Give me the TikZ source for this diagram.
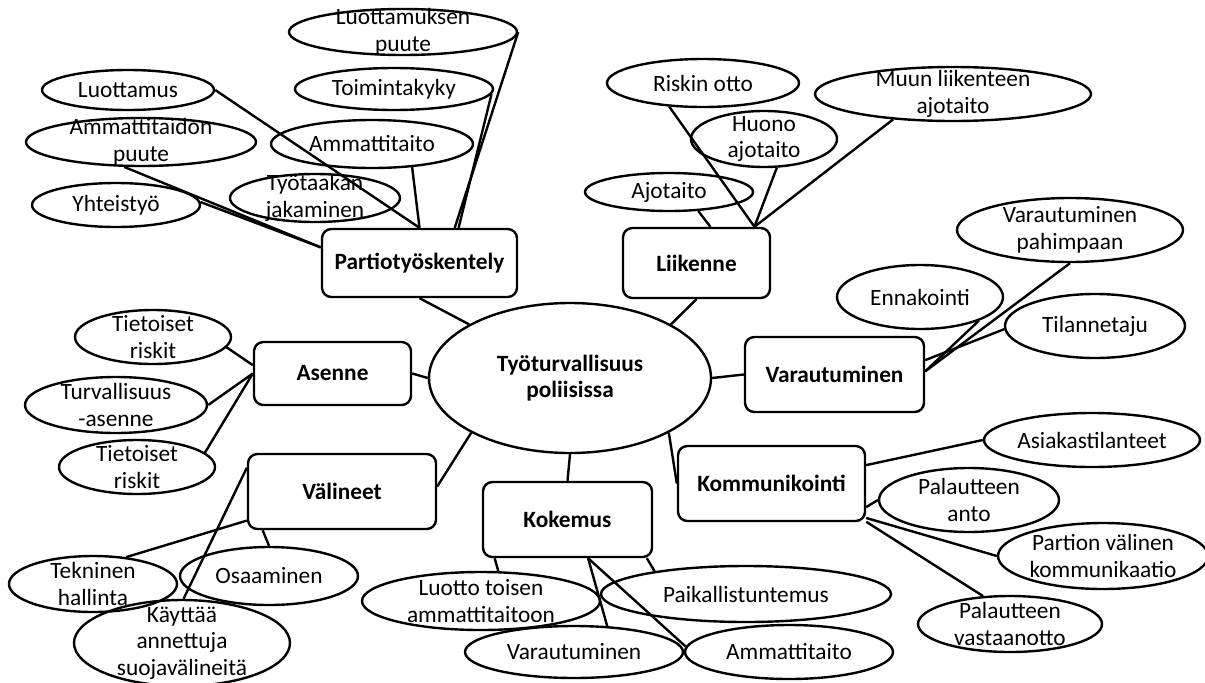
\documentclass[tikz,border=0pt]{standalone}
\usepackage{fontspec}
\setmainfont{Carlito}
\usetikzlibrary{shapes.geometric}
\newcommand{\mapfont}{\fontsize{17.5}{20}\selectfont}
\tikzset{
  idea/.style 2 args={draw,ellipse,line width=1.8pt,inner sep=0pt,minimum width=#1*0.75pt,minimum height=#2*0.75pt},
  topic/.style 2 args={draw,rounded corners=7pt,line width=1.8pt,inner sep=0pt,align=center,font=\mapfont\bfseries,minimum width=#1*0.75pt,minimum height=#2*0.75pt},
  lbl/.style={align=center,inner sep=0pt},
  link/.style={line width=1.8pt}
}
\begin{document}
\begin{tikzpicture}[x=0.75pt,y=-0.75pt,font=\mapfont]
\useasboundingbox[fill=white] (0,0) rectangle (1205,682);
\node[idea={282}{150},label={[lbl,font=\mapfont\bfseries]center:Työturvallisuus\\poliisissa}] (central) at (570,378) {};
\node[topic={195}{68}] (partio) at (419.5,263) {Partiotyöskentely};
\node[topic={147}{70}] (liik) at (696.5,263) {Liikenne};
\node[topic={179}{75}] (varau) at (834.5,374.5) {Varautuminen};
\node[topic={157}{63}] (asenne) at (332.5,373.5) {Asenne};
\node[topic={188}{75}] (valin) at (342,491.5) {Välineet};
\node[topic={169}{75}] (kok) at (567.5,519.5) {Kokemus};
\node[topic={187}{75}] (komm) at (771.5,483.5) {Kommunikointi};
% partiotyöskentely
\node[idea={228}{46},label={[lbl]center:Luottamuksen\\puute}] (lpuute) at (403,32) {};
\node[idea={198}{42},label={[lbl]center:Toimintakyky}] (toim) at (394,89) {};
\node[idea={172}{40},label={[lbl]center:Luottamus}] (luott) at (128,90) {};
\node[idea={230}{48},label={[lbl]center:Ammattitaidon\\puute}] (apuute) at (141,142) {};
\node[idea={202}{48},label={[lbl]center:Ammattitaito}] (ammp) at (372,144) {};
\node[idea={170}{48},label={[lbl]center:Työtaakan\\jakaminen}] (tyo) at (315,198) {};
\node[idea={168}{44},label={[lbl]center:Yhteistyö}] (yht) at (116,205) {};
% liikenne
\node[idea={192}{48},label={[lbl]center:Riskin otto}] (risk) at (703,83) {};
\node[idea={276}{54},label={[lbl]center:Muun liikenteen\\ajotaito}] (muun) at (953,94) {};
\node[idea={146}{56},label={[lbl]center:Huono\\ajotaito}] (huono) at (764,139) {};
\node[idea={168}{38},label={[lbl]center:Ajotaito}] (ajo) at (669,192) {};
% varautuminen
\node[idea={226}{64},label={[lbl]center:Varautuminen\\pahimpaan}] (vpahin) at (1070,230) {};
\node[idea={166}{64},label={[lbl]center:Ennakointi}] (enn) at (920,297) {};
\node[idea={180}{64},label={[lbl]center:Tilannetaju}] (tilanne) at (1095,326) {};
% asenne
\node[idea={156}{54},label={[lbl]center:Tietoiset\\riskit}] (ter1) at (153,337) {};
\node[idea={182}{56},label={[lbl]center:Turvallisuus\\-asenne}] (turv) at (116,405) {};
\node[idea={156}{54},label={[lbl]center:Tietoiset\\riskit}] (ter2) at (137,467) {};
% välineet
\node[idea={168}{56},label={[lbl]center:Tekninen\\hallinta}] (tek) at (93,584) {};
\node[idea={178}{58},label={[lbl]center:Osaaminen}] (osa) at (269,576) {};
\node[idea={216}{86},label={[lbl]center:Käyttää\\annettuja\\suojavälineitä}] (kay) at (182,643) {};
% kokemus
\node[idea={238}{58},label={[lbl]center:Luotto toisen\\ammattitaitoon}] (luotto) at (481,601) {};
\node[idea={218}{52},label={[lbl]center:Varautuminen}] (varkok) at (574,652) {};
\node[idea={290}{56},label={[lbl]center:Paikallistuntemus}] (paik) at (746,594) {};
\node[idea={208}{54},label={[lbl]center:Ammattitaito}] (ammk) at (789,652) {};
% kommunikointi
\node[idea={216}{54},label={[lbl]center:Asiakastilanteet}] (asiak) at (1092,440) {};
\node[idea={180}{64},label={[lbl]center:Palautteen\\anto}] (panto) at (969,500) {};
\node[idea={210}{66},label={[lbl]center:Partion välinen\\kommunikaatio}] (partion) at (1103,556) {};
\node[idea={184}{56},label={[lbl]center:Palautteen\\vastaanotto}] (pvast) at (1010,624) {};

\draw[link] (luott.east) -- (partio.north);
\draw[link] (apuute.236) -- (partio.171);
\draw[link] (yht.2) -- (partio.171);
\draw[link] (ammp.-30) -- (partio.north);
\draw[link] (lpuute.east) -- (partio.45);
\draw[link] (toim.-3) -- (partio.42);
\draw[link] (partio.south) -- (central.152);

\draw[link] (risk.215) -- (liik.32);
\draw[link] (huono.-66) -- (liik.32);
\draw[link] (muun.203) -- (liik.32);
\draw[link] (ajo.-33) -- (liik.69);
\draw[link] (liik.south) -- (central.28);

\draw[link] (vpahin.south) -- (varau.2);
\draw[link] (enn.-22) -- (varau.2);
\draw[link] (tilanne.182) -- (varau.9);
\draw[link] (varau.west) -- (central.east);

\draw[link] (ter1.-8) -- (asenne.174);
\draw[link] (turv.east) -- (asenne.west);
\draw[link] (ter2.12) -- (asenne.west);
\draw[link] (asenne.east) -- (central.west);

\draw[link] (tek.39) -- (valin.197);
\draw[link] (osa.north) -- (valin.206);
\draw[link] (kay.88) -- (valin.166);
\draw[link] (valin.3) -- (central.209);

\draw[link] (central.south) -- (kok.north);
\draw[link] (kok.208) -- (luotto.60);
\draw[link] (kok.-62) -- (varkok.38);
\draw[link] (kok.-62) -- (ammk.177);
\draw[link] (kok.-26) -- (paik.166);

\draw[link] (central.-29) -- (komm.west);
\draw[link] (komm.11) -- (asiak.west);
\draw[link] (komm.-14) -- (panto.west);
\draw[link] (komm.-20) -- (partion.west);
\draw[link] (komm.-22) -- (pvast.134);
\end{tikzpicture}
\end{document}
